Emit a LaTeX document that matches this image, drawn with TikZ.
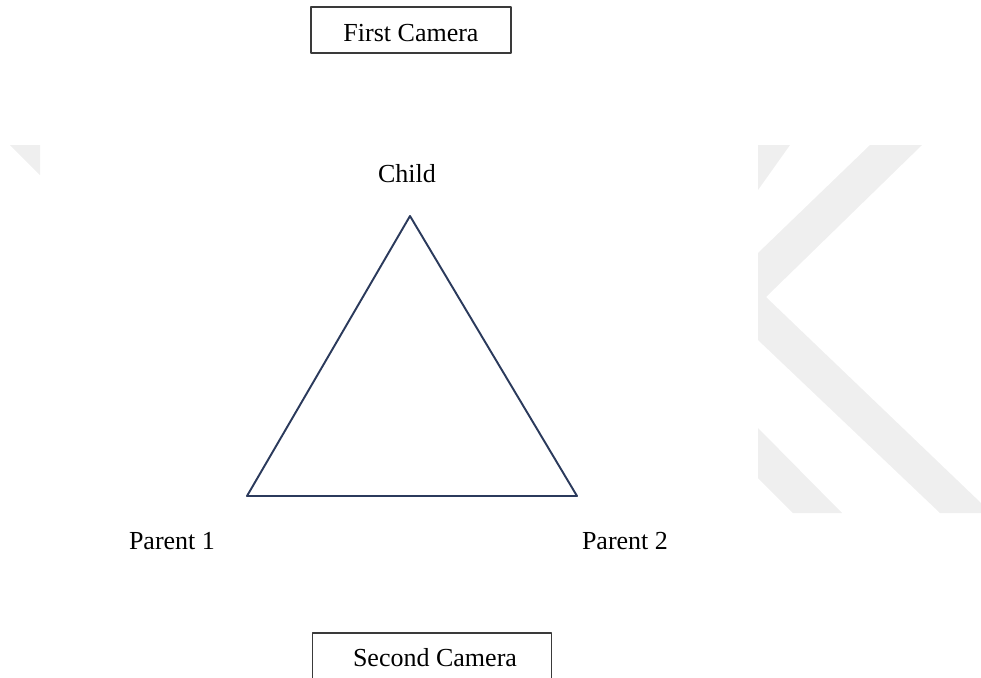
\documentclass[tikz,border=0pt]{standalone}
\usepackage{fontspec}
\setmainfont{Liberation Serif}
\usepackage{xcolor}
\usepackage{tikz}
\definecolor{navy}{HTML}{2B3A5C}
\definecolor{boxgray}{HTML}{3A3A3A}
\definecolor{wmark}{HTML}{EFEFEF}
\tikzset{fig/.style={line join=round,x=0.02cm,y=-0.02cm},
  cambox/.style={draw=boxgray,line width=0.6pt,inner sep=0pt},
  lbl/.style={inner sep=0pt}}

\begin{document}
\begin{tikzpicture}[fig,font=\fontsize{14.8pt}{17pt}\selectfont]
  \useasboundingbox(0,0)rectangle(981,677);
  % watermark
  \fill[wmark](10,145)--(40,145)--(40,175)--cycle;
  \fill[wmark](758,145)--(790,145)--(758,190)--cycle;
  \fill[wmark](870,145)--(922,145)--(766,297)--(981,503)--(981,513)--(940,513)--(758,340)--(758,253)--cycle;
  \fill[wmark](758,428)--(842,513)--(793,513)--(758,478)--cycle;
  % cameras
  \node[cambox,minimum width=4cm,minimum height=0.92cm,text height=13.4pt,text depth=0pt](cam1)at(411,30){First Camera};
  \node[cambox,minimum width=4.78cm,minimum height=1cm](cam2)at(432,658){\hspace{3.4pt}Second Camera};
  % family triangle
  \coordinate(top)at(410,216);\coordinate(left)at(247,496);\coordinate(right)at(577,496);
  \draw[navy,line width=1.1pt](top)--(left)--(right)--cycle;
  \node[lbl](child)at(407,174){Child};
  \node[lbl](par1)at(172,541){Parent 1};
  \node[lbl](par2)at(625,541){Parent 2};
\end{tikzpicture}
\end{document}
